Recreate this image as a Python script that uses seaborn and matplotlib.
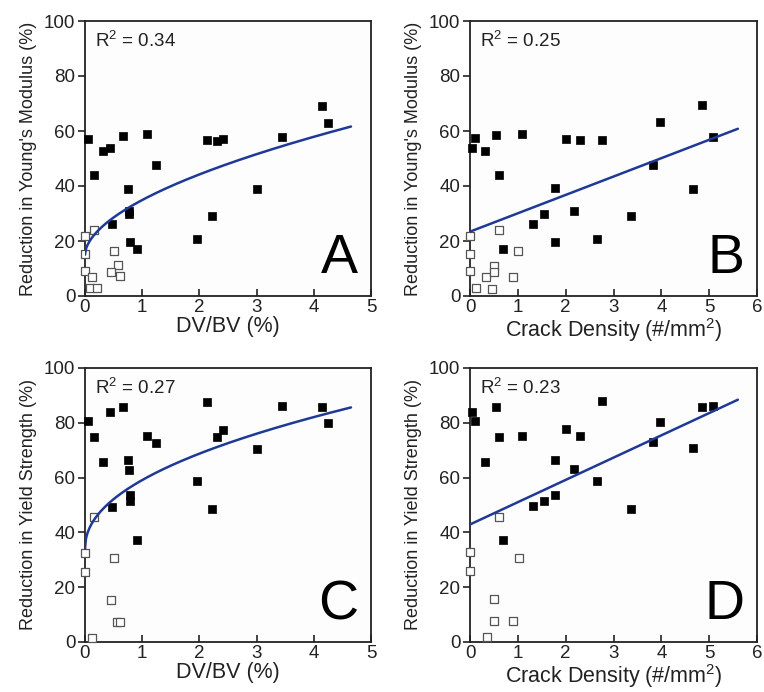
import numpy as np
import pandas as pd
import matplotlib
matplotlib.use("Agg")
import matplotlib.pyplot as plt
import seaborn as sns

# ---------------- data ----------------
# DV/BV (%) for damaged (filled) and control (open) specimens
dvbv_filled = [0.06, 0.16, 0.31, 0.44, 0.67, 1.08, 1.24, 0.75, 0.77, 0.77, 0.48,
               0.79, 0.91, 1.95, 2.13, 2.31, 2.41, 2.22, 3.01, 3.45, 4.14, 4.24]
ym_dvbv_filled = [57.1, 44.0, 52.6, 53.9, 58.3, 58.9, 47.5, 39.0, 31.0, 29.8, 26.1,
                  19.5, 17.0, 20.7, 56.6, 56.4, 57.0, 29.2, 38.8, 57.8, 69.2, 63.0]
dvbv_open = [0.0, 0.15, 0.0, 0.0, 0.12, 0.09, 0.21, 0.51, 0.57, 0.46, 0.61]
ym_dvbv_open = [21.7, 24.0, 15.3, 9.2, 6.9, 3.0, 2.8, 16.4, 11.3, 8.8, 7.2]

cd_filled = [0.05, 0.10, 0.31, 0.54, 0.61, 1.08, 0.70, 1.31, 1.55, 1.78, 1.78,
             2.00, 2.18, 2.30, 2.75, 2.65, 3.36, 3.83, 3.98, 4.67, 4.86, 5.09]
ym_cd_filled = [54.0, 57.3, 52.7, 58.5, 44.0, 59.0, 17.0, 26.2, 29.8, 39.1, 19.6,
                57.2, 31.0, 56.6, 56.6, 20.7, 29.2, 47.7, 63.1, 38.9, 69.3, 57.9]
cd_open = [0.0, 0.61, 0.0, 0.0, 0.13, 0.34, 0.47, 0.51, 0.51, 1.01, 0.89]
ym_cd_open = [21.9, 24.0, 15.2, 9.1, 3.0, 6.8, 2.7, 10.9, 8.8, 16.4, 6.9]

dvbv_filled_c = [0.06, 0.16, 0.31, 0.44, 0.67, 0.75, 0.77, 0.79, 0.79, 0.48, 0.91,
                 1.08, 1.24, 1.95, 2.13, 2.22, 2.31, 2.41, 3.01, 3.45, 4.14, 4.24]
ys_dvbv_filled = [80.5, 74.8, 65.6, 84.0, 85.6, 66.3, 62.9, 53.5, 51.3, 49.4, 37.1,
                  75.1, 72.8, 58.7, 87.7, 48.4, 75.0, 77.4, 70.6, 86.2, 85.7, 80.1]
dvbv_open_c = [0.15, 0.0, 0.0, 0.51, 0.46, 0.56, 0.61, 0.12]
ys_dvbv_open = [45.7, 32.3, 25.5, 30.5, 15.5, 7.3, 7.3, 1.5]

cd_filled_d = [0.05, 0.10, 0.31, 0.54, 0.61, 1.08, 0.70, 1.31, 1.55, 1.78, 1.78,
               2.00, 2.18, 2.30, 2.75, 2.65, 3.36, 3.83, 3.98, 4.67, 4.86, 5.09]
ys_cd_filled = [84.1, 80.7, 65.7, 85.8, 74.7, 75.2, 37.3, 49.6, 51.5, 66.4, 53.5,
                77.7, 63.0, 75.1, 87.8, 58.8, 48.5, 72.9, 80.3, 70.8, 85.8, 86.1]
cd_open_d = [0.61, 0.0, 0.0, 1.02, 0.51, 0.51, 0.89, 0.35]
ys_cd_open = [45.7, 32.7, 25.8, 30.7, 15.7, 7.5, 7.7, 1.8]

# fit parameters
powfit_A = (15.0, 19.9, 0.554)   # y = a + b * x**c
powfit_C = (34.0, 25.1, 0.469)
linfit_B = (23.4, 6.68)          # y = a + b * x
linfit_D = (42.9, 8.13)
fit_xmax_dvbv = 4.65
fit_xmax_cd = 5.6

r2_labels = ["0.34", "0.25", "0.27", "0.23"]
panel_letters = ["A", "B", "C", "D"]
ylabels = ["Reduction in Young's Modulus (%)", "Reduction in Yield Strength (%)"]
xlabels = ["DV/BV (%)", "Crack Density (#/mm$^2$)"]

# ---------------- style ----------------
sns.set_style("ticks")
plt.rcParams['font.family'] = ['Liberation Sans', 'DejaVu Sans']
plt.rcParams['mathtext.fontset'] = 'custom'
plt.rcParams['mathtext.rm'] = 'Liberation Sans'

W, H = 764, 692
fig = plt.figure(figsize=(W / 100, H / 100), dpi=100)
fig.patch.set_facecolor('white')

def ax_at(l, t, r, b):
    return fig.add_axes([l / W, 1 - b / H, (r - l) / W, (b - t) / H])

axA = ax_at(85, 21, 371, 296)
axB = ax_at(470, 21, 757, 296)
axC = ax_at(85, 368, 371, 642)
axD = ax_at(470, 368, 757, 642)

line_color = '#1f3a96'
text_color = '#222222'

def draw(ax, xf, yf, xo, yo, fit, kind, xmax, xlim, r2, letter, xlabel, ylabel):
    sns.scatterplot(x=xf, y=yf, ax=ax, marker='s', s=30, color='black',
                    edgecolor='black', linewidth=0.5, zorder=3, legend=False)
    sns.scatterplot(x=xo, y=yo, ax=ax, marker='s', s=28, facecolor='white',
                    edgecolor='#555555', linewidth=0.9, zorder=3, legend=False)
    xs = np.linspace(0, xmax, 300)
    if kind == 'pow':
        a, b, c = fit
        ys = a + b * xs ** c
    else:
        a, b = fit
        ys = a + b * xs
    sns.lineplot(x=xs, y=ys, ax=ax, color=line_color, linewidth=1.8,
                 zorder=4, estimator=None, sort=False)
    ax.set_xlim(*xlim)
    ax.set_ylim(0, 100)
    ax.set_xticks(range(xlim[0], xlim[1] + 1))
    ax.set_yticks(range(0, 101, 20))
    ax.tick_params(axis='x', direction='in', length=5, width=1.2,
                   labelsize=13.5, pad=2, colors=text_color)
    ax.tick_params(axis='y', direction='out', length=5, width=1.2,
                   labelsize=13.5, pad=2, colors=text_color)
    for s in ax.spines.values():
        s.set_visible(True)
        s.set_linewidth(1.3)
        s.set_color(text_color)
    ax.set_facecolor('#fdfdfd')
    ax.set_xlabel(xlabel, fontsize=15.5, labelpad=0, color=text_color)
    ax.set_ylabel(ylabel, fontsize=13, labelpad=5, color=text_color)
    ax.text(0.035, 0.965, "R$^2$ = " + r2, transform=ax.transAxes,
            ha='left', va='top', fontsize=13.5, color=text_color)
    ax.text(0.955, 0.04, letter, transform=ax.transAxes, ha='right',
            va='bottom', fontsize=40, color='black')

draw(axA, dvbv_filled, ym_dvbv_filled, dvbv_open, ym_dvbv_open, powfit_A, 'pow',
     fit_xmax_dvbv, (0, 5), r2_labels[0], panel_letters[0], xlabels[0], ylabels[0])
draw(axB, cd_filled, ym_cd_filled, cd_open, ym_cd_open, linfit_B, 'lin',
     fit_xmax_cd, (0, 6), r2_labels[1], panel_letters[1], xlabels[1], ylabels[0])
draw(axC, dvbv_filled_c, ys_dvbv_filled, dvbv_open_c, ys_dvbv_open, powfit_C, 'pow',
     fit_xmax_dvbv, (0, 5), r2_labels[2], panel_letters[2], xlabels[0], ylabels[1])
draw(axD, cd_filled_d, ys_cd_filled, cd_open_d, ys_cd_open, linfit_D, 'lin',
     fit_xmax_cd, (0, 6), r2_labels[3], panel_letters[3], xlabels[1], ylabels[1])

for ax in (axA, axB, axC, axD):
    for coll in ax.collections:
        coll.set_clip_on(False)

fig.savefig("out.png", dpi=100, facecolor='white')
